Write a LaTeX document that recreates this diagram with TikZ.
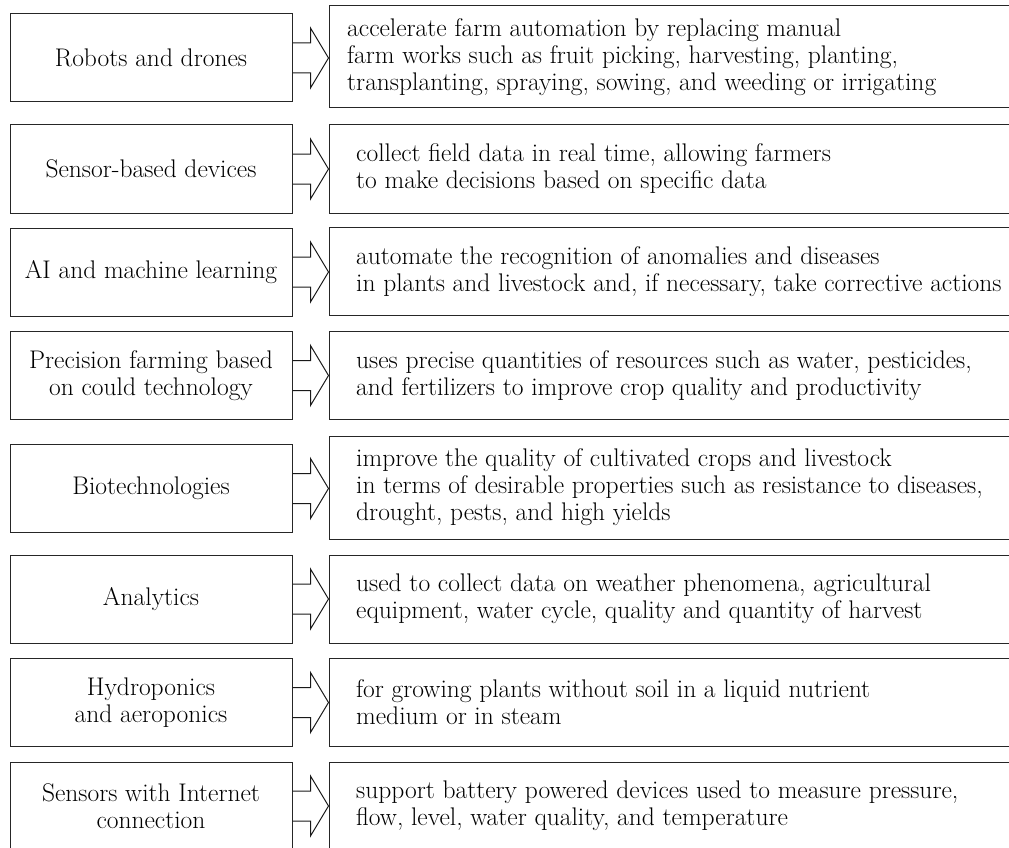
\documentclass[tikz,border=0pt]{standalone}
\usetikzlibrary{calc}
\tikzset{
  lbox/.style={draw=black!85, line width=1pt, minimum width=282pt, minimum height=88pt, inner sep=0pt, align=center, font=\fontsize{25.5}{27}\selectfont},
  rbox/.style={draw=black!85, line width=1pt, minimum width=711pt, minimum height=88pt, inner sep=0pt},
  rtext/.style={anchor=west, inner sep=0pt, align=left, font=\fontsize{25.5}{27}\selectfont},
  harrow/.style={draw=black!90, line width=1pt, line join=miter}
}
\newcommand{\bigarrow}[2]{%
  \draw[harrow] ($(#1.east)+(0,-15)$) -- ++(18,0) -- ++(0,-15) -- (#2.west |- #1.east) -- ($(#1.east)+(18,30)$) -- ++(0,-15) -- ($(#1.east)+(0,15)$);
}
\begin{document}
\begin{tikzpicture}[x=1pt,y=-1pt]
\useasboundingbox (0,0) rectangle (1009,848);
\clip (0,0) rectangle (1009,848);
% row 1
\node[lbox] (l1) at (151,58) {Robots and drones};
\node[rbox, minimum height=102pt] (r1) at (684.5,57) {};
\node[rtext] (t1) at (347,57) {accelerate farm automation by replacing manual\\farm works such as fruit picking, harvesting, planting,\\transplanting, spraying, sowing, and weeding or irrigating};
\bigarrow{l1}{r1}
% row 2
\node[lbox] (l2) at (151,169) {Sensor-based devices};
\node[rbox] (r2) at (684.5,169) {};
\node[rtext] (t2) at (356,169) {collect field data in real time, allowing farmers\\to make decisions based on specific data};
\bigarrow{l2}{r2}
% row 3
\node[lbox] (l3) at (151,272) {AI and machine learning};
\node[rbox] (r3) at (684.5,271.5) {};
\node[rtext] (t3) at (356,271.5) {automate the recognition of anomalies and diseases\\in plants and livestock and, if necessary, take corrective actions};
\bigarrow{l3}{r3}
% row 4
\node[lbox] (l4) at (151,375.5) {Precision farming based\\on could technology};
\node[rbox] (r4) at (684.5,375.5) {};
\node[rtext] (t4) at (356,375.5) {uses precise quantities of resources such as water, pesticides,\\and fertilizers to improve crop quality and productivity};
\bigarrow{l4}{r4}
% row 5
\node[lbox] (l5) at (151,488.5) {Biotechnologies};
\node[rbox, minimum height=103pt] (r5) at (684.5,487.5) {};
\node[rtext] (t5) at (356,487.5) {improve the quality of cultivated crops and livestock\\in terms of desirable properties such as resistance to diseases,\\drought, pests, and high yields};
\bigarrow{l5}{r5}
% row 6
\node[lbox] (l6) at (151,599) {Analytics};
\node[rbox] (r6) at (684.5,599) {};
\node[rtext] (t6) at (356,599) {used to collect data on weather phenomena, agricultural\\equipment, water cycle, quality and quantity of harvest};
\bigarrow{l6}{r6}
% row 7
\node[lbox] (l7) at (151,702.5) {Hydroponics\\and aeroponics};
\node[rbox] (r7) at (684.5,702.5) {};
\node[rtext] (t7) at (356,702.5) {for growing plants without soil in a liquid nutrient\\medium or in steam};
\bigarrow{l7}{r7}
% row 8
\node[lbox] (l8) at (151,806) {Sensors with Internet\\connection};
\node[rbox] (r8) at (684.5,806) {};
\node[rtext] (t8) at (356,806) {support battery powered devices used to measure pressure,\\flow, level, water quality, and temperature};
\bigarrow{l8}{r8}
\end{tikzpicture}
\end{document}
